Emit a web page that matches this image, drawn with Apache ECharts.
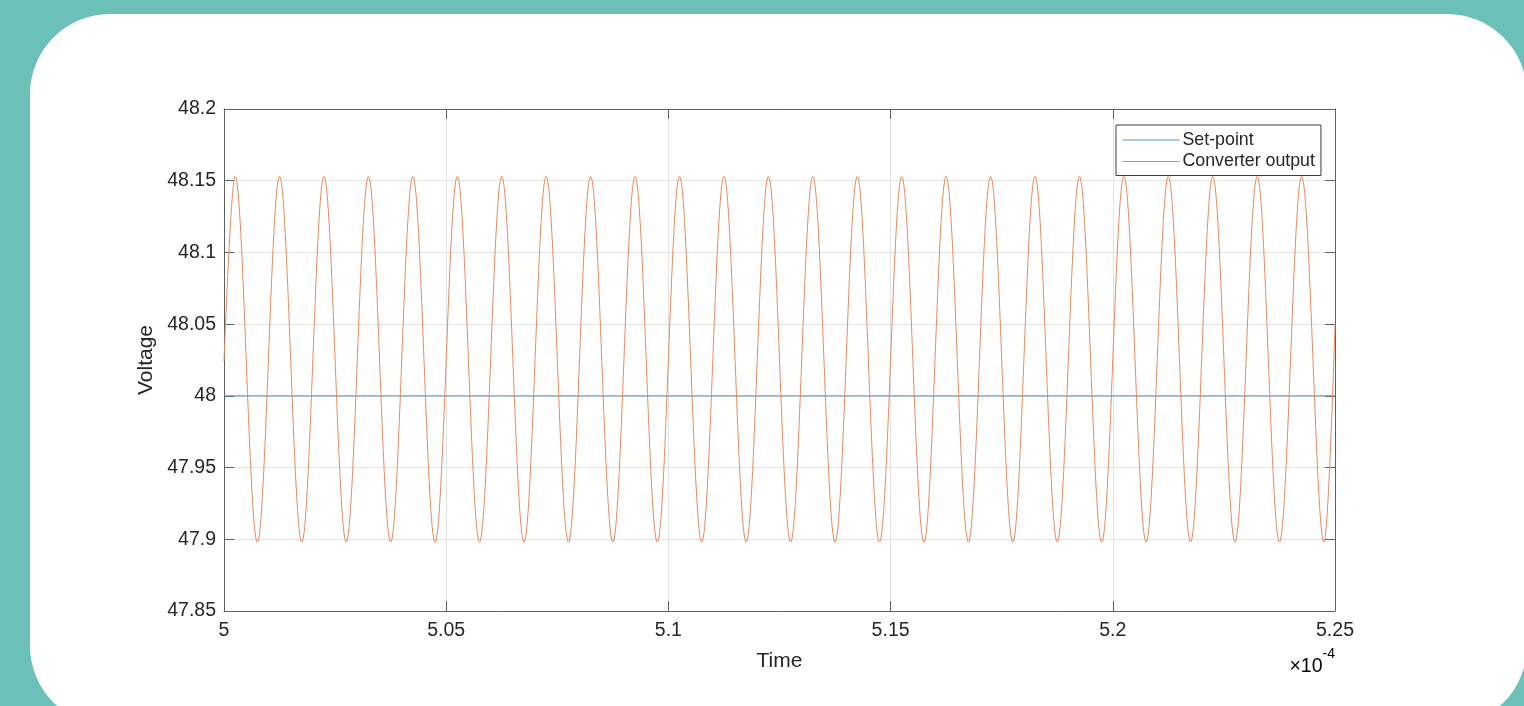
<!DOCTYPE html>
<html>
<head>
<meta charset="utf-8">
<script src="https://cdn.jsdelivr.net/npm/echarts@6/dist/echarts.min.js"></script>
<style>
  html, body { margin: 0; padding: 0; width: 1524px; height: 706px; overflow: hidden; background: #6bc1b7; }
  #card { position: absolute; left: 30px; top: 14px; width: 1497px; height: 712px; border-radius: 80px; background: #fff; }
  #chart { position: absolute; left: 0; top: 0; width: 1524px; height: 706px; }
</style>
</head>
<body>
<div id="card"></div>
<div id="chart"></div>
<script>
// time axis in units of 1e-4 s
const xTicks = [5, 5.05, 5.1, 5.15, 5.2, 5.25];
const yTicks = [47.85, 47.9, 47.95, 48, 48.05, 48.1, 48.15, 48.2];

const setPointTimes = [5, 5.25];
const setPointValues = [48, 48];

// converter output ripple: peaks and troughs
const peakTimes = [5.0025, 5.0125, 5.0225, 5.0325, 5.0425, 5.0525, 5.0625, 5.0725, 5.0825, 5.0925,
  5.1025, 5.1125, 5.1225, 5.1325, 5.1425, 5.1525, 5.1625, 5.1725, 5.1825, 5.1925,
  5.2025, 5.2125, 5.2225, 5.2325, 5.2425];
const troughTimes = [5.0075, 5.0175, 5.0275, 5.0375, 5.0475, 5.0575, 5.0675, 5.0775, 5.0875, 5.0975,
  5.1075, 5.1175, 5.1275, 5.1375, 5.1475, 5.1575, 5.1675, 5.1775, 5.1875, 5.1975,
  5.2075, 5.2175, 5.2275, 5.2375, 5.2475];
const peakValue = 48.153;
const troughValue = 47.898;
const startPoint = [5, 48.024];
const endPoint = [5.25, 48.05];

const outputData = [startPoint];
peakTimes.forEach((t, i) => {
  outputData.push([t, peakValue]);
  outputData.push([troughTimes[i], troughValue]);
});
outputData.push(endPoint);

const setPointData = setPointTimes.map((t, i) => [t, setPointValues[i]]);

const chart = echarts.init(document.getElementById('chart'), null, { renderer: 'canvas' });

const axisColor = '#5e5e5e';
const textColor = '#262626';
const font = 'Liberation Sans, Arial, Helvetica, sans-serif';

const xBase = {
  type: 'value',
  min: xTicks[0],
  max: xTicks[xTicks.length - 1],
  interval: 0.05,
  axisLine: { show: true, onZero: false, lineStyle: { color: axisColor, width: 1 } },
  axisTick: { show: true, inside: true, length: 10, lineStyle: { color: axisColor } },
};
const yBase = {
  type: 'value',
  min: yTicks[0],
  max: yTicks[yTicks.length - 1],
  interval: 0.05,
  axisLine: { show: true, onZero: false, lineStyle: { color: axisColor, width: 1 } },
  axisTick: { show: true, inside: true, length: 10, lineStyle: { color: axisColor } },
};

chart.setOption({
  animation: false,
  textStyle: { fontFamily: font },
  grid: { left: 224, top: 109, right: 189, bottom: 95, containLabel: false },
  legend: {
    orient: 'vertical',
    left: 1116,
    top: 125,
    padding: [6, 6, 5, 6],
    itemGap: 3.5,
    itemWidth: 57,
    itemHeight: 19.5,
    backgroundColor: '#fff',
    borderColor: '#3c3c3c',
    borderWidth: 1,
    itemStyle: { opacity: 0 },
    lineStyle: { width: 1 },
    textStyle: { color: textColor, fontSize: 17.8, fontFamily: font, padding: [0, 0, 0, -2] },
    data: ['Set-point', 'Converter output'],
  },
  xAxis: [
    Object.assign({}, xBase, {
      position: 'bottom',
      name: 'Time',
      nameLocation: 'middle',
      nameGap: 40,
      nameTextStyle: { color: textColor, fontSize: 21, fontFamily: font },
      axisLabel: { color: textColor, fontSize: 19.5, margin: 10, fontFamily: font },
      splitLine: { show: true, lineStyle: { color: '#e3e3e3', width: 1 } },
    }),
    Object.assign({}, xBase, {
      position: 'top',
      axisLabel: { show: false },
      splitLine: { show: false },
    }),
  ],
  yAxis: [
    Object.assign({}, yBase, {
      position: 'left',
      name: 'Voltage',
      nameLocation: 'middle',
      nameGap: 64,
      nameRotate: 90,
      nameTextStyle: { color: textColor, fontSize: 21, fontFamily: font },
      axisLabel: { color: textColor, fontSize: 19.5, margin: 8, fontFamily: font },
      splitLine: { show: true, lineStyle: { color: '#e3e3e3', width: 1 } },
    }),
    Object.assign({}, yBase, {
      position: 'right',
      axisLabel: { show: false },
      splitLine: { show: false },
    }),
  ],
  graphic: [
    {
      type: 'text',
      right: 189,
      top: 647,
      style: {
        text: '{a|\u00d710}{b|-4}',
        rich: {
          a: { fontSize: 19.5, color: '#404040', fontFamily: font, verticalAlign: 'bottom', padding: [10, 0, 0, 0] },
          b: { fontSize: 14, color: '#404040', fontFamily: font, verticalAlign: 'top' },
        },
      },
    },
  ],
  series: [
    {
      name: 'Set-point',
      type: 'line',
      xAxisIndex: 0,
      yAxisIndex: 0,
      data: setPointData,
      symbol: 'none',
      lineStyle: { color: '#4a95cc', width: 1 },
      itemStyle: { color: '#4a95cc' },
      z: 3,
    },
    {
      name: 'Converter output',
      type: 'line',
      xAxisIndex: 0,
      yAxisIndex: 0,
      data: outputData,
      symbol: 'none',
      smooth: 0.36,
      lineStyle: { color: '#e6895f', width: 1 },
      itemStyle: { color: '#e6895f' },
      z: 4,
    },
  ],
});
</script>
</body>
</html>
